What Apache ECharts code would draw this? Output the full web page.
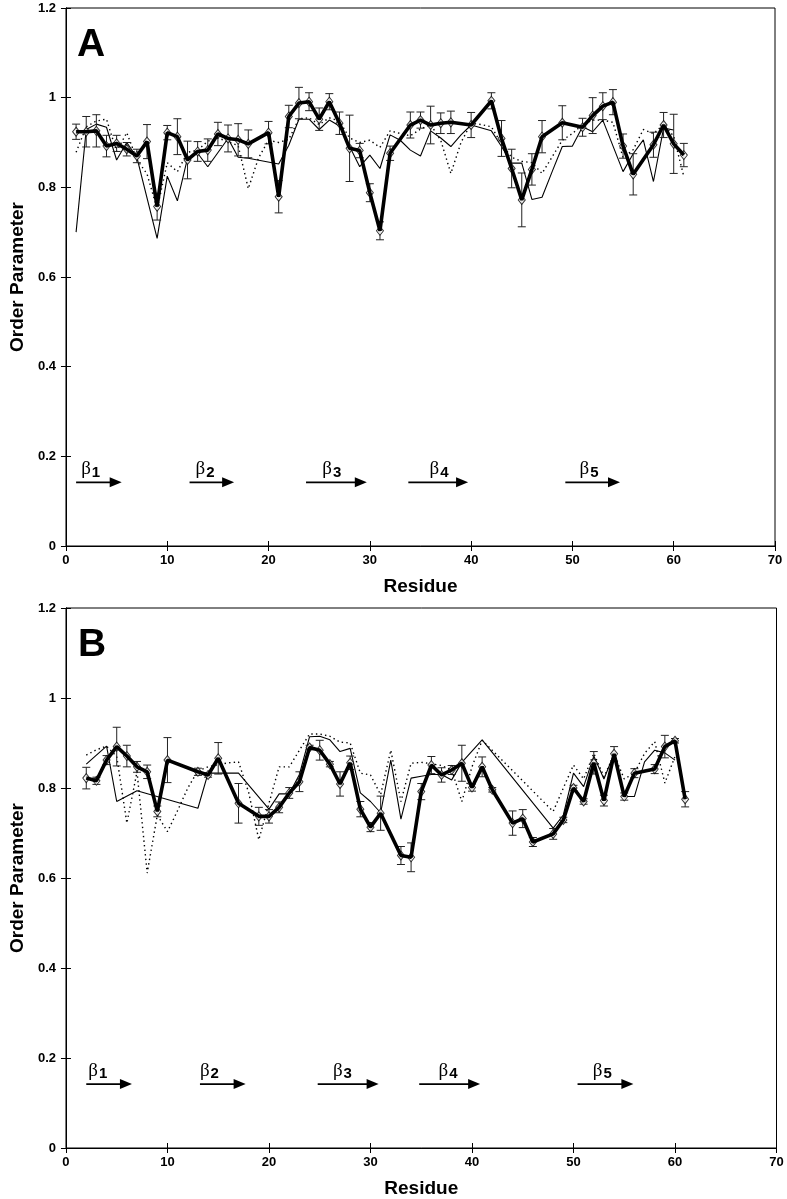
<!DOCTYPE html>
<html><head><meta charset="utf-8">
<script src="https://cdn.jsdelivr.net/npm/echarts@6/dist/echarts.min.js"></script>
<style>html,body{margin:0;padding:0;background:#fff}#c{width:787px;height:1199px}</style>
</head><body><div id="c"></div>
<script>
// ---------- Panel A ----------
const A_expRes = [1,2,3,4,5,6,7,8,9,10,11,12,13,14,15,16,17,18,20,21,22,23,24,25,26,27,28,29,30,31,32,34,35,36,37,38,40,42,43,44,45,46,47,49,51,52,53,54,55,56,58,59,60,61];
const A_expVal = [0.924,0.924,0.926,0.892,0.898,0.885,0.870,0.902,0.757,0.922,0.913,0.861,0.880,0.883,0.919,0.909,0.906,0.897,0.922,0.779,0.958,0.988,0.991,0.952,0.991,0.943,0.887,0.882,0.788,0.703,0.876,0.939,0.950,0.939,0.943,0.945,0.939,0.993,0.909,0.842,0.772,0.840,0.913,0.944,0.934,0.960,0.981,0.990,0.892,0.829,0.895,0.939,0.897,0.872];
const A_expErr = [0.017,0.034,0.036,0.024,0.018,0.015,0.015,0.038,0.03,0.016,0.04,0.042,0.022,0.025,0.026,0.03,0.036,0.031,0.025,0.036,0.025,0.035,0.02,0.025,0.018,0.025,0.074,0.016,0.02,0.02,0.016,0.029,0.018,0.042,0.023,0.025,0.028,0.018,0.04,0.043,0.06,0.035,0.036,0.038,0.02,0.04,0.03,0.028,0.027,0.046,0.028,0.028,0.066,0.026];
const A_thinRes = [1,2,3,4,5,6,7,9,10,11,12,13,14,16,17,18,21,22,23,24,25,26,27,29,30,31,32,33,34,35,36,37,38,39,40,42,43,44,45,46,47,48,49,50,51,52,53,55,56,57,58,59,60];
const A_thinVal = [0.70,0.929,0.941,0.934,0.861,0.900,0.867,0.686,0.825,0.770,0.865,0.876,0.846,0.909,0.867,0.865,0.852,0.894,0.952,0.952,0.929,0.950,0.937,0.846,0.872,0.842,0.917,0.905,0.883,0.870,0.926,0.910,0.891,0.917,0.939,0.926,0.891,0.854,0.854,0.773,0.778,0.835,0.891,0.892,0.935,0.924,0.950,0.835,0.875,0.906,0.813,0.932,0.928];
const A_dotRes = [1,2,3,4,5,6,7,8,9,10,11,12,13,14,15,16,17,18,19,20,21,22,23,24,25,26,27,28,29,30,31,32,33,34,35,36,37,38,39,40,41,42,43,44,45,46,47,48,49,50,51,52,53,54,55,56,57,58,59,60,61];
const A_dotVal = [0.878,0.935,0.948,0.952,0.88,0.922,0.862,0.83,0.752,0.855,0.835,0.878,0.883,0.903,0.91,0.902,0.893,0.797,0.865,0.905,0.9,0.907,0.953,0.955,0.94,0.955,0.948,0.91,0.9,0.905,0.889,0.926,0.92,0.915,0.93,0.94,0.905,0.831,0.9,0.943,0.94,0.935,0.897,0.867,0.858,0.855,0.831,0.868,0.905,0.92,0.94,0.95,0.95,0.945,0.866,0.884,0.929,0.92,0.94,0.914,0.824];
const A_strands = [[1.0,5.5],[12.2,16.6],[23.7,29.7],[33.8,39.7],[49.3,54.7]];
const A_strandLabelX = [1.5,12.8,25.3,35.9,50.7];

// ---------- Panel B ----------
const B_expRes = [2,3,4,5,6,7,8,9,10,13,14,15,17,19,20,21,22,23,24,25,26,27,28,29,30,31,33,34,35,36,37,38,39,40,41,42,44,45,46,48,49,50,51,52,53,54,55,56,58,59,60,61];
const B_expVal = [0.822,0.816,0.862,0.892,0.871,0.847,0.836,0.748,0.862,0.836,0.829,0.866,0.766,0.737,0.737,0.757,0.789,0.814,0.890,0.884,0.853,0.809,0.856,0.753,0.713,0.744,0.650,0.646,0.792,0.851,0.829,0.840,0.855,0.801,0.847,0.796,0.722,0.732,0.680,0.698,0.729,0.800,0.770,0.856,0.772,0.876,0.781,0.833,0.842,0.892,0.905,0.775];
const B_expErr = [0.024,0.008,0.01,0.043,0.024,0.012,0.015,0.012,0.05,0.008,0.005,0.035,0.044,0.02,0.015,0.012,0.012,0.022,0.005,0.022,0.006,0.027,0.015,0.017,0.01,0.038,0.02,0.032,0.018,0.019,0.016,0.01,0.04,0.008,0.022,0.005,0.027,0.02,0.01,0.012,0.006,0.006,0.006,0.025,0.012,0.016,0.008,0.01,0.01,0.025,0.005,0.017];
const B_thinRes = [2,4,5,7,13,14,17,20,21,22,23,24,25,26,27,28,29,30,31,32,33,34,35,36,37,38,39,41,48,49,50,51,52,53,54,55,56,57,58,59,60];
const B_thinVal = [0.853,0.893,0.770,0.794,0.755,0.833,0.833,0.753,0.787,0.787,0.83,0.914,0.915,0.907,0.881,0.888,0.789,0.770,0.745,0.862,0.731,0.822,0.826,0.83,0.83,0.818,0.857,0.907,0.711,0.74,0.833,0.803,0.871,0.82,0.876,0.781,0.781,0.858,0.884,0.878,0.862];
const B_dotRes = [2,3,4,5,6,7,8,9,10,11,12,13,14,15,16,17,18,19,20,21,22,23,24,25,26,27,28,29,30,31,32,33,34,35,36,37,38,39,40,41,48,49,50,51,52,53,54,55,56,57,58,59,60];
const B_dotVal = [0.873,0.885,0.893,0.87,0.722,0.836,0.611,0.74,0.703,0.75,0.80,0.838,0.847,0.852,0.856,0.858,0.79,0.685,0.766,0.847,0.847,0.884,0.92,0.92,0.915,0.902,0.9,0.833,0.829,0.785,0.884,0.77,0.855,0.857,0.854,0.85,0.84,0.77,0.847,0.906,0.748,0.8,0.851,0.82,0.877,0.825,0.874,0.82,0.833,0.877,0.903,0.811,0.87];
const B_strands = [[2.0,6.5],[13.2,17.7],[24.8,30.8],[34.8,40.8],[50.4,55.9]];
const B_strandLabelX = [2.2,13.2,26.3,36.7,51.9];

const strandArrowY = 0.142;
const strandLabelY = 0.172;
const xTicks = {min:0, max:70, interval:10};
const yTicks = {min:0, max:1.2, interval:0.2};
const panelNames = ['A','B'];

// ---------- build ----------
const FONT = 'Liberation Sans';
const pairs = (r, v) => r.map((x, i) => [x, v[i]]);
const errData = (r, v, e) => r.map((x, i) => [x, +(v[i]-e[i]).toFixed(4), +(v[i]+e[i]).toFixed(4)]);

const grids = [
  {left:59, top:8, width:716, height:538},
  {left:61.5, top:608, width:715, height:540.5}
];

const xAxes = [], yAxes = [], series = [];
grids.forEach((g, gi) => {
  const base = {gridIndex:gi, type:'value', min:xTicks.min, max:xTicks.max, interval:xTicks.interval,
    axisLine:{show:true, lineStyle:{color:'#000', width:1}}, splitLine:{show:false},
    axisTick:{show:true, inside:true, length:5, lineStyle:{color:'#000'}}};
  xAxes.push(Object.assign({}, base, {position:'bottom', name:'Residue', nameLocation:'middle', nameGap:31,
    nameTextStyle:{fontFamily:FONT, fontWeight:'bold', fontSize:19, color:'#000'},
    axisLabel:{fontFamily:FONT, fontWeight:'bold', fontSize:13, color:'#000', margin:8}}));
  xAxes.push(Object.assign({}, base, {position:'top', axisLabel:{show:false}}));
  const ybase = {gridIndex:gi, type:'value', min:yTicks.min, max:yTicks.max, interval:yTicks.interval,
    axisLine:{show:true, lineStyle:{color:'#000', width:1}}, splitLine:{show:false},
    axisTick:{show:true, inside:true, length:5, lineStyle:{color:'#000'}}};
  yAxes.push(Object.assign({}, ybase, {position:'left', name:'Order Parameter', nameLocation:'middle', nameGap:37,
    nameTextStyle:{fontFamily:FONT, fontWeight:'bold', fontSize:19, color:'#000'},
    axisLabel:{fontFamily:FONT, fontWeight:'bold', fontSize:13, color:'#000', margin:10,
      formatter: v => (Math.round(v*10)/10).toString()}}));
  yAxes.push(Object.assign({}, ybase, {position:'right', axisLabel:{show:false}}));
});

const panels = [
  {exp:[A_expRes,A_expVal,A_expErr], thin:[A_thinRes,A_thinVal], dot:[A_dotRes,A_dotVal], strands:A_strands, lx:A_strandLabelX},
  {exp:[B_expRes,B_expVal,B_expErr], thin:[B_thinRes,B_thinVal], dot:[B_dotRes,B_dotVal], strands:B_strands, lx:B_strandLabelX}
];

panels.forEach((p, gi) => {
  const xi = gi*2, yi = gi*2;
  series.push({type:'line', xAxisIndex:xi, yAxisIndex:yi, data:pairs(p.dot[0], p.dot[1]), showSymbol:false, symbol:'none',
    lineStyle:{color:'#000', width:1.4, type:[1.4,3.2]}, z:2, animation:false});
  series.push({type:'line', xAxisIndex:xi, yAxisIndex:yi, data:pairs(p.thin[0], p.thin[1]), showSymbol:false, symbol:'none',
    lineStyle:{color:'#000', width:1.1}, z:3, animation:false});
  series.push({type:'custom', xAxisIndex:xi, yAxisIndex:yi, data:errData(p.exp[0], p.exp[1], p.exp[2]),
    encode:{x:0, y:[1,2]}, z:4, animation:false,
    renderItem:(params, api) => {
      const x = api.value(0), lo = api.coord([x, api.value(1)]), hi = api.coord([x, api.value(2)]);
      const w = 4, st = {stroke:'#222', lineWidth:1};
      return {type:'group', children:[
        {type:'line', shape:{x1:lo[0], y1:lo[1], x2:hi[0], y2:hi[1]}, style:st},
        {type:'line', shape:{x1:lo[0]-w, y1:lo[1], x2:lo[0]+w, y2:lo[1]}, style:st},
        {type:'line', shape:{x1:hi[0]-w, y1:hi[1], x2:hi[0]+w, y2:hi[1]}, style:st}
      ]};
    }});
  // hollow diamond markers beneath the thick line
  series.push({type:'scatter', xAxisIndex:xi, yAxisIndex:yi, data:pairs(p.exp[0], p.exp[1]),
    symbol:'diamond', symbolSize:[7,9],
    itemStyle:{color:'#fff', borderColor:'#000', borderWidth:1}, z:5, animation:false});
  series.push({type:'line', xAxisIndex:xi, yAxisIndex:yi, data:pairs(p.exp[0], p.exp[1]),
    symbol:'none', showSymbol:false,
    lineStyle:{color:'#000', width:3.6}, z:6, animation:false});
  // strand arrows
  series.push({type:'custom', xAxisIndex:xi, yAxisIndex:yi, data:p.strands.map(s => [s[0], s[1], strandArrowY]),
    encode:{x:[0,1], y:2}, z:7, animation:false,
    renderItem:(params, api) => {
      const a = api.coord([api.value(0), api.value(2)]), b = api.coord([api.value(1), api.value(2)]);
      const hl = 12, hw = 5;
      return {type:'group', children:[
        {type:'line', shape:{x1:a[0], y1:a[1], x2:b[0]-hl+1, y2:b[1]}, style:{stroke:'#000', lineWidth:1.6}},
        {type:'polygon', shape:{points:[[b[0],b[1]],[b[0]-hl,b[1]-hw],[b[0]-hl,b[1]+hw]]}, style:{fill:'#000'}}
      ]};
    }});
  // strand labels
  series.push({type:'custom', xAxisIndex:xi, yAxisIndex:yi, data:p.lx.map((x, i) => [x, strandLabelY, i+1]),
    encode:{x:0, y:1}, z:7, animation:false,
    renderItem:(params, api) => {
      const c = api.coord([api.value(0), api.value(1)]);
      return {type:'text', x:c[0], y:c[1], style:{
        text:'{b|β}{s|' + api.value(2) + '}', align:'left', verticalAlign:'middle',
        rich:{b:{fontFamily:'Liberation Serif', fontSize:19, lineHeight:22, fill:'#000', verticalAlign:'middle'},
              s:{fontFamily:FONT, fontWeight:'bold', fontSize:15, lineHeight:22, fill:'#000', padding:[9,0,0,1], verticalAlign:'bottom'}}
      }};
    }});
});

const chart = echarts.init(document.getElementById('c'), null, {renderer:'canvas'});
chart.setOption({
  backgroundColor:'#fff',
  animation:false,
  title: panelNames.map((n, i) => ({text:n, left: i === 0 ? 72 : 73, top: i === 0 ? 21 : 621,
    textStyle:{fontFamily:FONT, fontWeight:'bold', fontSize:39, color:'#000'}})),
  grid: grids.map(g => Object.assign({show:true, borderColor:'#000', borderWidth:1, backgroundColor:'transparent'}, g)),
  xAxis: xAxes, yAxis: yAxes, series: series
});
</script></body></html>
